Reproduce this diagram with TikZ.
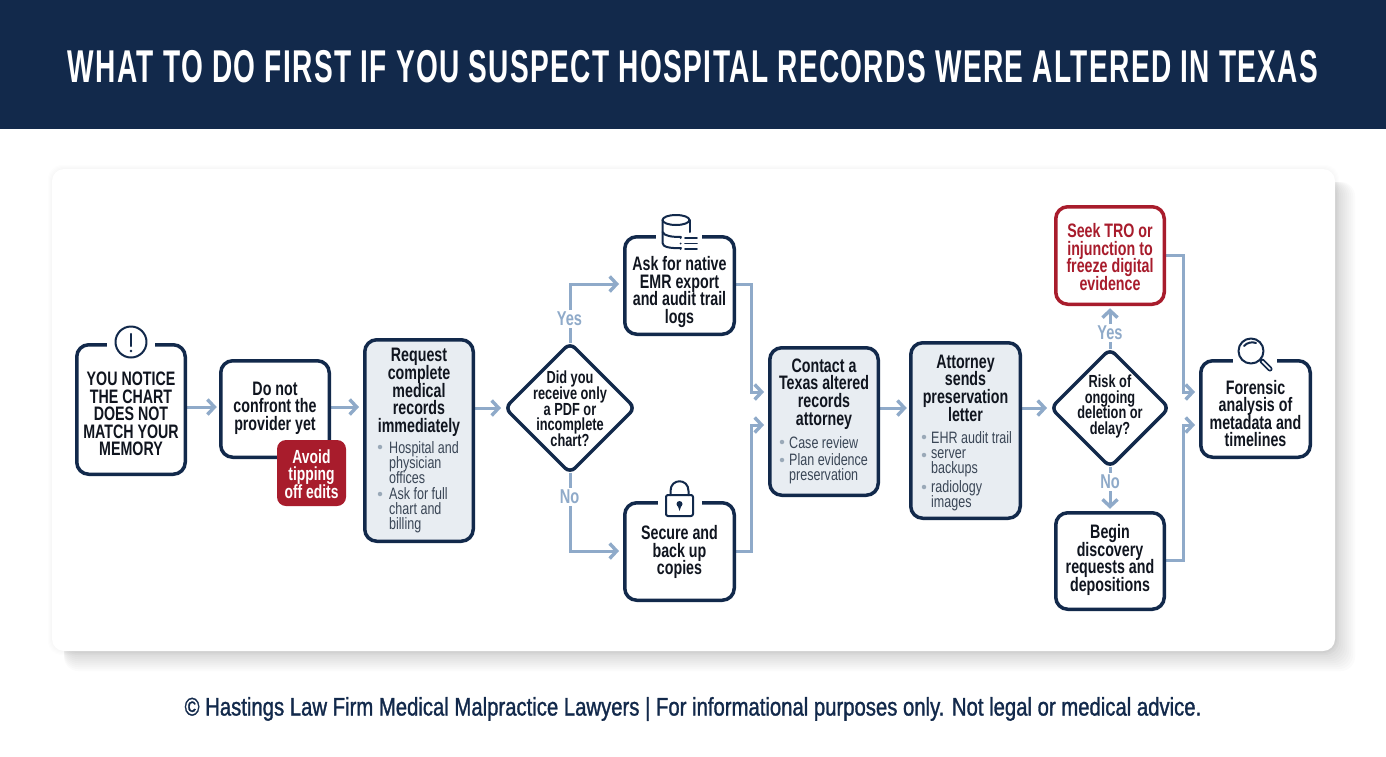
\documentclass[tikz,border=0pt]{standalone}
\usepackage{fontspec}
\usetikzlibrary{arrows.meta,shapes.geometric}
\setmainfont{Liberation Sans}
\newfontfamily\cond[FakeStretch=0.73]{Liberation Sans}
\newfontfamily\itemfont[FakeStretch=0.76]{Liberation Sans}
\newfontfamily\footfont[FakeStretch=0.796,FakeBold=1.2]{Liberation Sans}
\newfontfamily\titlefont[FakeStretch=0.61,LetterSpace=3]{Liberation Sans}
\newcommand\tightlines{\lineskiplimit -100pt\relax}
\definecolor{navy}{HTML}{12294B}
\definecolor{hdr}{HTML}{12294B}
\definecolor{conn}{HTML}{8FAAC9}
\definecolor{alert}{HTML}{A81C2C}
\definecolor{soft}{HTML}{E8EDF2}
\definecolor{ink}{HTML}{10151F}
\definecolor{sub}{HTML}{3A4656}
\definecolor{dotc}{HTML}{9AA9B8}
\pgfdeclarelayer{bg}
\pgfsetlayers{bg,main}
\tikzset{
  x=1pt,y=-1pt,
  flow/.style={draw=navy,line width=3.5pt,rounded corners=12pt,fill=white,outer sep=0pt,inner sep=0pt},
  softbox/.style={flow,fill=soft},
  redbox/.style={flow,draw=alert},
  decide/.style={diamond,aspect=1,draw=navy,line width=3.5pt,fill=white,rounded corners=7pt,outer sep=0pt,inner sep=0pt},
  note/.style={fill=alert,rounded corners=9pt,outer sep=0pt,inner sep=0pt},
  ttl/.style={align=center,text=ink,inner sep=0pt,font=\tightlines\cond\bfseries\fontsize{19.5}{17.6}\selectfont},
  dtxt/.style={align=center,text=ink,inner sep=0pt,font=\tightlines\cond\bfseries\fontsize{17.5}{15.7}\selectfont},
  item/.style={align=left,anchor=west,text=sub,inner sep=0pt,font=\tightlines\itemfont\fontsize{16.5}{14.8}\selectfont},
  dot/.style={circle,fill=dotc,minimum size=4.5pt,inner sep=0pt},
  flowline/.style={draw=conn,line width=3pt,shorten >=4pt,-{Straight Barb[length=7pt,width=15pt,line width=3.4pt]}},
  tag/.style={fill=white,text=conn,inner sep=2pt,font=\cond\bfseries\fontsize{20}{20}\selectfont},
  gap/.style={white,line width=7pt},
  icon/.style={draw=navy,line width=2pt,line cap=round,line join=round}
}
\newcommand\bx[6]{\node[#1,minimum width={#5-#3-3.5},minimum height={#6-#4-3.5}] (#2) at ({(#3+#5)/2},{(#4+#6)/2}) {};}
\begin{document}
\begin{tikzpicture}
\useasboundingbox (0,0) rectangle (1386,756);
\begin{pgfonlayer}{bg}
  \fill[white] (0,0) rectangle (1386,756);
  \foreach \s in {4,3,2,1}
    \fill[black,opacity=.008,rounded corners=14pt] (52-\s,169-\s) rectangle (1335+\s,651+\s);
  \foreach \s in {20,18,16,14,12,10,8,6,4,2}
    \fill[black,opacity=.017,rounded corners=14pt] (64,182) rectangle (1335+\s,651+\s);
  \fill[white,rounded corners=12pt] (52,169) rectangle (1335,651);
  \fill[hdr] (0,0) rectangle (1386,129);
\end{pgfonlayer}
\node[inner sep=0pt,text=white,font=\titlefont\bfseries\fontsize{46}{46}\selectfont] (title) at (693,67) {WHAT TO DO FIRST IF YOU SUSPECT HOSPITAL RECORDS WERE ALTERED IN TEXAS};
\node[inner sep=0pt,text=navy,font=\footfont\fontsize{25.5}{26}\selectfont] (foot) at (693,709) {© Hastings Law Firm Medical Malpractice Lawyers | For informational purposes only. Not legal or medical advice.};

\bx{flow}{n1}{75}{343}{187}{476}
\node[ttl] (n1t) at (131,414) {YOU NOTICE\\THE CHART\\DOES NOT\\MATCH YOUR\\MEMORY};
\draw[gap] (107,343) -- (155,343);
\draw[icon] (131,342) circle [radius=15.5];
\draw[icon,line width=2.2pt] (131,334) -- (131,346);
\fill[navy] (131,351) circle [radius=1.4];

\bx{flow}{n2}{219}{359}{331}{459}
\node[ttl] (n2t) at (275,408) {Do not\\confront the\\provider yet};
\node[note,minimum width=69pt,minimum height=66pt] (n2b) at (311.5,473) {};
\node[ttl,text=white,font=\tightlines\cond\bfseries\fontsize{19}{17.4}\selectfont] (n2bt) at (311.5,474) {Avoid\\tipping\\off edits};

\bx{softbox}{n3}{363}{338}{475}{543}
\node[ttl] (n3t) at (419,392.5) {Request\\complete\\medical\\records\\immediately};
\node[dot] (n3d1) at (380,447) {};
\node[item] (n3i1) at (389,462.5) {Hospital and\\physician\\offices};
\node[dot] (n3d2) at (380,494) {};
\node[item] (n3i2) at (389,510) {Ask for full\\chart and\\billing};

\node[decide,minimum width=130pt,minimum height=130pt] (d1) at (570,408) {};
\node[dtxt] (d1t) at (570,409) {Did you\\receive only\\a PDF or\\incomplete\\chart?};

\bx{flow}{n4}{623}{235}{736}{336}
\node[ttl] (n4t) at (679.5,292) {Ask for native\\EMR export\\and audit trail\\logs};
\draw[gap] (656,235) -- (702,235);
\draw[icon] (676,220) ellipse [x radius=13.5,y radius=5];
\draw[icon] (662.5,220) -- (662.5,243) .. controls (662.5,247) and (670,248.5) .. (681,248);
\draw[icon] (689.5,220) -- (689.5,232);
\draw[icon] (662.5,232) .. controls (664,236) and (672,237) .. (681,237);
\draw[icon,line width=1.6pt] (685,238) -- (697,238) (685,243.5) -- (697,243.5) (685,249) -- (697,249);
\fill[navy] (680.5,243.5) circle [radius=1] (680.5,238) circle [radius=1] (680.5,249) circle [radius=1];

\bx{flow}{n5}{623}{501}{736}{602}
\node[ttl] (n5t) at (679.5,552) {Secure and\\back up\\copies};
\draw[gap] (658,501) -- (702,501);
\draw[icon,rounded corners=2pt] (666,495) rectangle (693,516);
\draw[icon] (670.5,495) -- (670.5,491) .. controls (670.5,478) and (688.5,478) .. (688.5,491) -- (688.5,495);
\fill[navy] (679.5,504) circle [radius=3];
\fill[navy] (677.5,505) -- (681.5,505) -- (679.5,511) -- cycle;

\bx{softbox}{n6}{768}{346}{880}{497}
\node[ttl] (n6t) at (824,394) {Contact a\\Texas altered\\records\\attorney};
\node[dot] (n6d1) at (782,442) {};
\node[item] (n6i1) at (789,442.5) {Case review};
\node[dot] (n6d2) at (782,460) {};
\node[item] (n6i2) at (789,469) {Plan evidence\\preservation};

\bx{softbox}{n7}{909}{341}{1022}{520}
\node[ttl] (n7t) at (965.5,388) {Attorney\\sends\\preservation\\letter};
\node[dot] (n7d1) at (924,437) {};
\node[item] (n7i1) at (931,437.5) {EHR audit trail};
\node[dot] (n7d2) at (924,455) {};
\node[item] (n7i2) at (931,463) {server\\backups};
\node[dot] (n7d3) at (924,487) {};
\node[item] (n7i3) at (931,496) {radiology\\images};

\node[decide,minimum width=118pt,minimum height=118pt] (d2) at (1110,408) {};
\node[dtxt] (d2t) at (1110,406.5) {Risk of\\ongoing\\deletion or\\delay?};

\bx{redbox}{n8}{1054}{205}{1166}{306}
\node[ttl,text=alert] (n8t) at (1110,257) {Seek TRO or\\injunction to\\freeze digital\\evidence};

\bx{flow}{n9}{1054}{511}{1166}{611}
\node[ttl] (n9t) at (1110,560) {Begin\\discovery\\requests and\\depositions};

\bx{flow}{n10}{1199}{359}{1312}{459}
\node[ttl] (n10t) at (1255.5,413.5) {Forensic\\analysis of\\metadata and\\timelines};
\draw[gap] (1233,359) -- (1277,359);
\draw[icon] (1251,351) circle [radius=12.5];
\draw[icon] (1244,346) .. controls (1247,342.5) and (1252,341.5) .. (1256,343);
\draw[icon,line width=5pt,line cap=round] (1262,361) -- (1270,369);
\draw[white,line width=1.6pt,line cap=round] (1262.5,361.5) -- (1270,369);

\coordinate (n3in) at (363,407);
\coordinate (n6a) at (768,392);
\coordinate (n6b) at (768,425);
\coordinate (n10a) at (1199,392);
\coordinate (n10b) at (1199,425);
\coordinate (bus1) at (751,0);
\coordinate (bus2) at (1183,0);
\coordinate (n4in) at (623,284);
\coordinate (n5in) at (623,551);

\begin{pgfonlayer}{bg}
  \draw[flowline] (n1.east |- n3in) -- (n2.west |- n3in);
  \draw[flowline] (n2.east |- n3in) -- (n3in);
  \draw[flowline] (n3.east |- d1) -- (d1.west);
  \draw[flowline] (d1.north) -- (d1.north |- n4in) -- (n4in);
  \draw[flowline] (d1.south) -- (d1.south |- n5in) -- (n5in);
  \draw[flowline] (n4.east |- n4in) -- (n4in -| bus1) |- (n6a);
  \draw[flowline] (n5.east |- n5in) -- (n5in -| bus1) |- (n6b);
  \draw[flowline] (n6.east |- d1) -- (n7.west |- d1);
  \draw[flowline] (n7.east |- d2) -- (d2.west);
  \draw[flowline] (d2.north) -- (n8.south);
  \draw[flowline] (d2.south) -- (n9.north);
  \draw[flowline] (n8.east |- 0,255) -- (bus2 |- 0,255) |- (n10a);
  \draw[flowline] (n9.east |- 0,560) -- (bus2 |- 0,560) |- (n10b);
\end{pgfonlayer}
\node[tag] (yes1) at (569.5,319) {Yes};
\node[tag] (no1) at (569.5,497) {No};
\node[tag] (yes2) at (1110,333) {Yes};
\node[tag] (no2) at (1110,482) {No};
\end{tikzpicture}
\end{document}
